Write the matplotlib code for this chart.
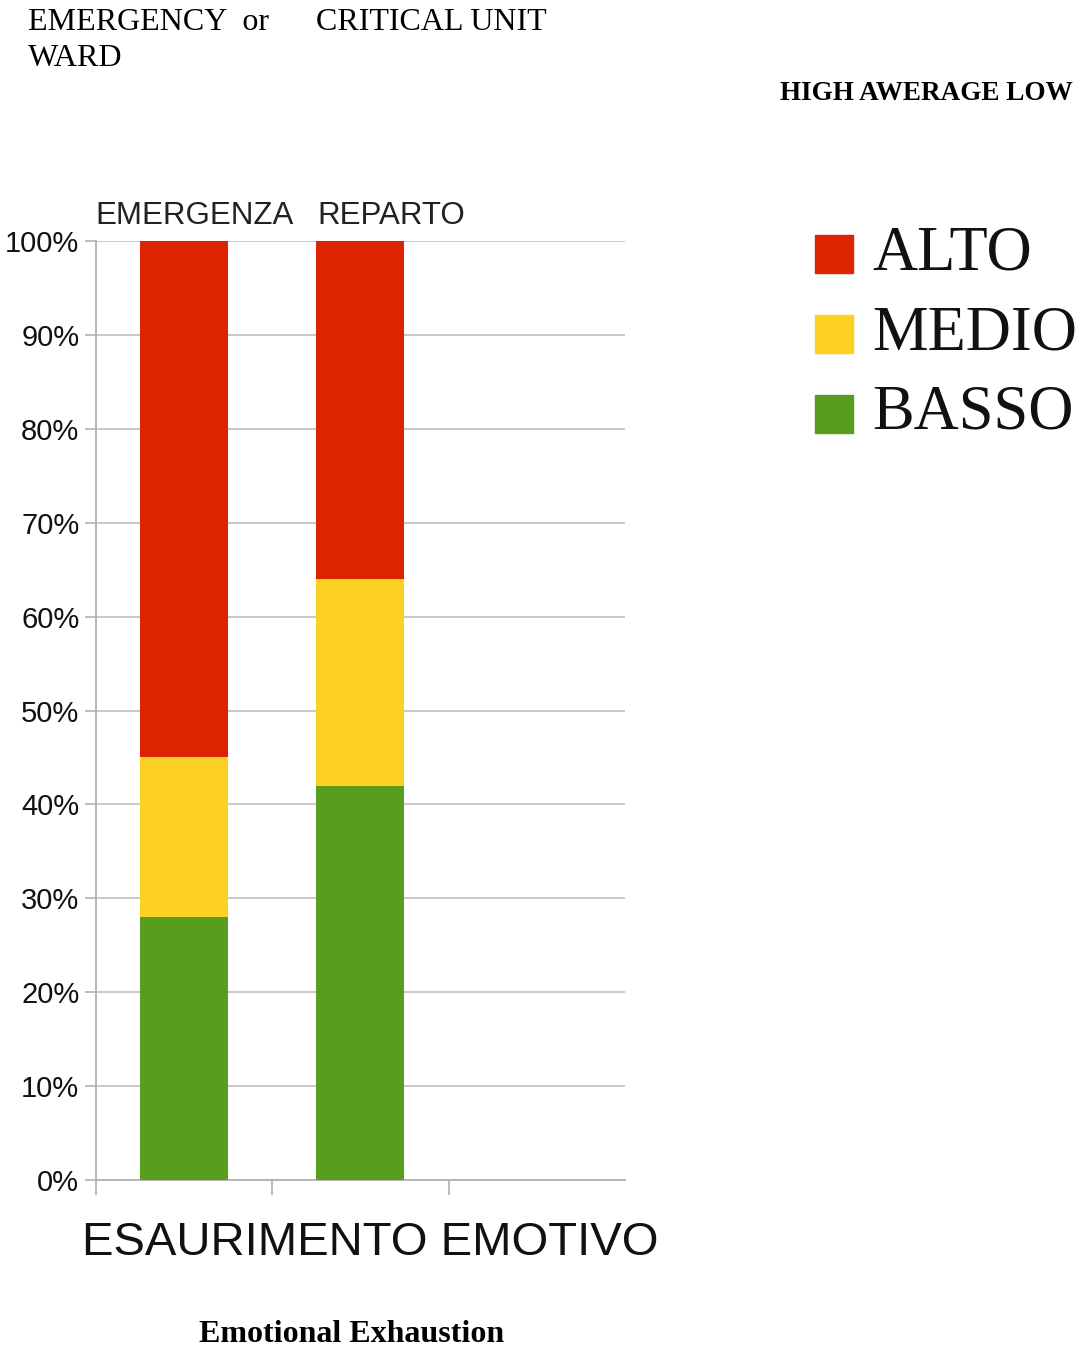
import matplotlib.pyplot as plt
import numpy as np

# percentuali per reparto (dal basso: BASSO, MEDIO, ALTO)
reparti = ['EMERGENZA', 'REPARTO']
livelli = ['ALTO', 'MEDIO', 'BASSO']
basso = [28, 42]
medio = [17, 22]
alto = [55, 36]
colori = {'ALTO': '#dc2400', 'MEDIO': '#fdd124', 'BASSO': '#589d1d'}
yticks = list(range(0, 101, 10))

fig = plt.figure(figsize=(10.79, 13.52), dpi=100)
ax = fig.add_axes([0.089, 0.1272, 0.490, 0.6945])

x = np.arange(len(reparti)) + 0.5
ax.bar(x, basso, width=0.5, color=colori['BASSO'], zorder=3)
ax.bar(x, medio, width=0.5, bottom=basso, color=colori['MEDIO'], zorder=3)
ax.bar(x, alto, width=0.5, bottom=np.add(basso, medio), color=colori['ALTO'], zorder=3)

ax.set_xlim(0, 3)
ax.set_ylim(0, 100)
ax.set_yticks(yticks)
ax.set_yticklabels([f'{v}%' for v in yticks], fontsize=21, family='Liberation Sans',
                   color='#111111')
ax.set_xticks([0, 1, 2])
ax.set_xticklabels([])
ax.tick_params(axis='y', length=8, width=1.2, color='#b0b0b0', pad=4)
ax.tick_params(axis='x', length=11, width=1.2, color='#b0b0b0')
ax.grid(axis='y', color='#c4c4c4', linewidth=1.3, zorder=0)
for s in ['top', 'right']:
    ax.spines[s].set_visible(False)
for s in ['left', 'bottom']:
    ax.spines[s].set_color('#b0b0b0')
    ax.spines[s].set_linewidth(1.3)

# nomi dei reparti sopra le colonne
for xpos, nome in zip([95, 317], reparti):
    fig.text(xpos / 1079, 1 - 216 / 1352, nome, ha='left', va='center',
             fontsize=22.5, family='Liberation Sans', color='#222222')

fig.text(370 / 1079, 1 - 1243 / 1352, 'ESAURIMENTO EMOTIVO', ha='center', va='center',
         fontsize=34, family='Liberation Sans', color='#111111')

# legenda
for i, liv in enumerate(livelli):
    yc = 1 - (254 + i * 80) / 1352
    fig.patches.append(plt.Rectangle((815 / 1079, yc - 19 / 1352), 38 / 1079, 38 / 1352,
                                     transform=fig.transFigure, color=colori[liv]))
    fig.text(872 / 1079, yc, liv, ha='left', va='center',
             fontsize=45, family='Liberation Serif', color='#111111')

# titoli in inglese
fig.text(28 / 1079, 1 - 23 / 1352, 'EMERGENCY  or', ha='left', va='center',
         fontsize=23, family='Liberation Serif')
fig.text(316 / 1079, 1 - 23 / 1352, 'CRITICAL UNIT', ha='left', va='center',
         fontsize=23, family='Liberation Serif')
fig.text(28 / 1079, 1 - 59 / 1352, 'WARD', ha='left', va='center',
         fontsize=23, family='Liberation Serif')
fig.text(1073 / 1079, 1 - 94 / 1352, 'HIGH AWERAGE LOW', ha='right', va='center',
         fontsize=19.5, family='Liberation Serif', weight='bold')
fig.text(352 / 1079, 1 - 1335 / 1352, 'Emotional Exhaustion', ha='center', va='center',
         fontsize=23, family='Liberation Serif', weight='bold')

fig.savefig('out.png', dpi=100)
